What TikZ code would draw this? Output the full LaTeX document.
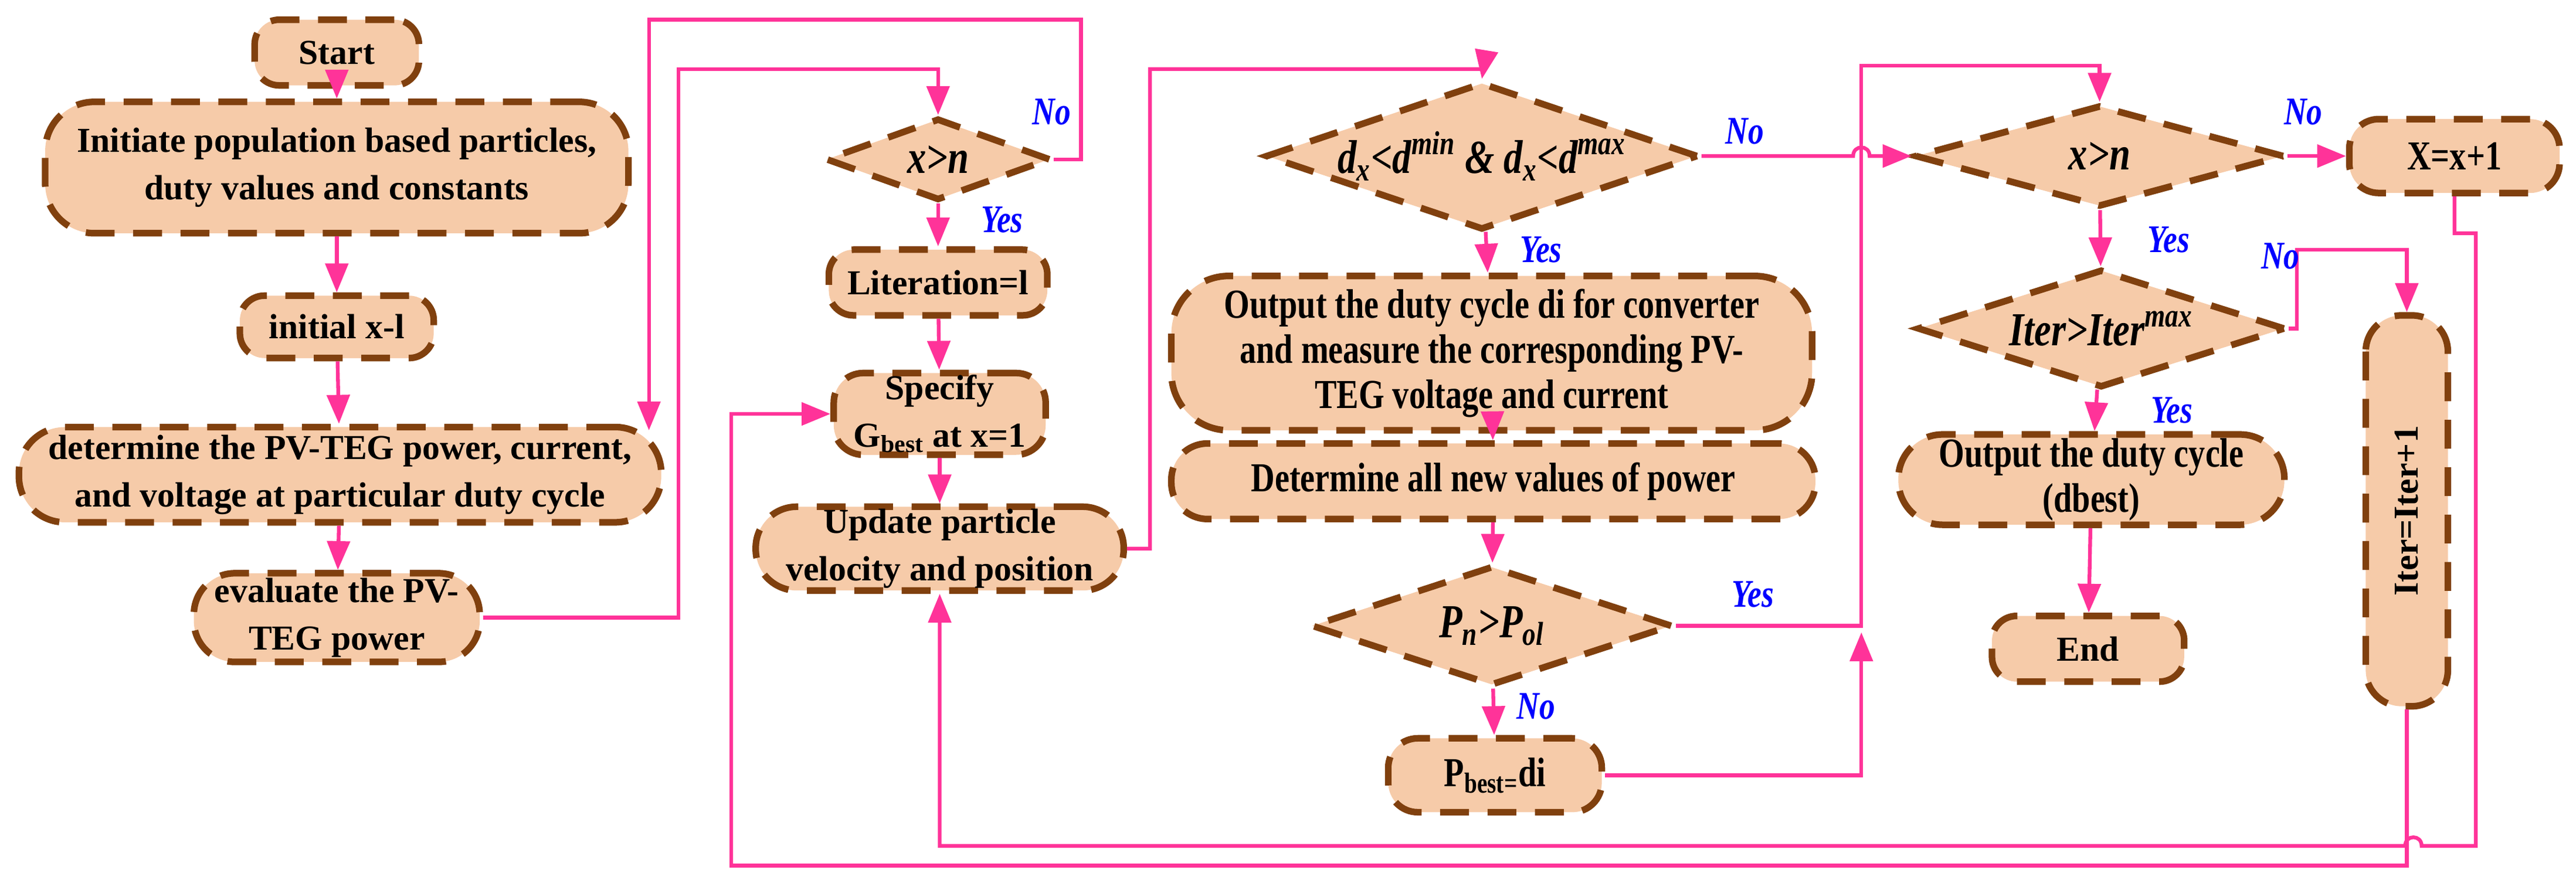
\documentclass[tikz,border=0pt]{standalone}
\usepackage{fontspec}
\setmainfont{Liberation Serif}
\newfontfamily\cond[FakeStretch=0.8]{Liberation Serif}
\usetikzlibrary{arrows.meta,shapes.geometric}
\definecolor{fillc}{HTML}{F6CBA9}
\definecolor{brd}{HTML}{80400E}
\definecolor{pink}{HTML}{FF3399}
\definecolor{lab}{HTML}{0000FF}
\tikzset{
  bx/.style n args={3}{draw=brd, fill=fillc, line width=3.2pt, dash pattern=on 14pt off 9pt,
    rounded corners=#3*0.028017cm, minimum width=#1*0.028017cm, minimum height=#2*0.028017cm,
    inner sep=1pt, align=center, font=\fontsize{17}{23}\selectfont\bfseries},
  cbx/.style={font=\cond\fontsize{20}{22}\selectfont\bfseries},
  dm/.style n args={3}{diamond, draw=brd, fill=fillc, line width=3.2pt, dash pattern=on 14pt off 9pt,
    aspect=#3, minimum width=#1*0.028017cm, minimum height=#2*0.028017cm, inner sep=0pt,
    font=\cond\fontsize{23}{24}\selectfont\bfseries\itshape},
  ln/.style={draw=pink, line width=1.8pt},
  ar/.style={ln, -{Triangle[length=14pt,width=11pt]}},
  lb/.style={text=lab, font=\cond\fontsize{19}{20}\selectfont\bfseries\itshape},
}
\begin{document}
\begin{tikzpicture}[x=0.028017cm,y=-0.028017cm]
\useasboundingbox (0,0) rectangle (1568,540);
% column 1
\node[bx={100}{40}{15}] (start) at (205,32) {Start};
\node[bx={355}{80}{30}] (init) at (205,102) {Initiate population based particles,\\duty values and constants};
\node[bx={118}{38}{15}] (initx) at (205,199) {initial x-l};
\node[bx={391}{58}{28}] (det) at (207,289) {determine the PV-TEG power, current,\\and voltage at particular duty cycle};
\node[bx={174}{54}{25}] (eval) at (205,376) {evaluate the PV-\\TEG power};
% column 2
\node[dm={137}{50}{2.74}] (d1) at (571,97) {x>n};
\node[bx={133}{40}{15}] (lit) at (571,172) {Literation=l};
\node[bx={129}{49}{18}] (spec) at (572,252) {Specify\\G\textsubscript{best} at x=1};
\node[bx={224}{51}{25}] (upd) at (572,334) {Update particle\\velocity and position};
% column 3
\node[dm={220}{75}{2.93}] (d2) at (902,95) {d\textsubscript{x}<d\textsuperscript{min} \& d\textsubscript{x}<d\textsuperscript{max}};
\node[bx={390}{94}{35},cbx] (out) at (908,215) {Output the duty cycle di for converter\\and measure the corresponding PV-\\TEG voltage and current};
\node[bx={392}{46}{22},cbx] (detall) at (909,293) {Determine all new values of power};
\node[dm={220}{73}{3.01}] (d3) at (908,381) {P\textsubscript{n}>P\textsubscript{ol}};
\node[bx={130}{45}{18},cbx] (pbest) at (910,472) {P\textsubscript{best=}di};
% column 4
\node[dm={225}{62}{3.63}] (d4) at (1278,95) {x>n};
\node[dm={224}{72}{3.11}] (d5) at (1279,200) {Iter>Iter\textsuperscript{max}};
\node[bx={235}{55}{27},cbx] (dbest) at (1273,292) {Output the duty cycle\\(dbest)};
\node[bx={117}{40}{15}] (end) at (1271,395) {End};
\node[bx={128}{45}{18},cbx] (xx) at (1494,95) {X=x+1};
\node[bx={238}{50}{22},rotate=90] (iter) at (1465,311) {Iter=Iter+1};
% connectors column 1
\draw[ar] (start) -- (init);
\draw[ar] (init) -- (initx);
\draw[ar] (initx) -- (det);
\draw[ar] (det) -- (eval);
\draw[ar] (eval.east) -- (413,376) -- (413,42) -- (571,42) -- (d1.north);
\draw[ar] (d1.east) -- (658,97) -- (658,12) -- (395,12) -- (395,262);
% column 2
\draw[ar] (d1) -- (lit);
\draw[ar] (lit) -- (spec);
\draw[ar] (spec) -- (upd);
\draw[ar] (upd.east) -- (700,334) -- (700,42) -- (903,42) -- (d2.north);
% column 3
\draw[ar] (d2) -- (out);
\draw[ar] (out) -- (detall);
\draw[ar] (detall) -- (d3);
\draw[ar] (d3) -- (pbest);
\draw[ar] (d2.east) -- (1128,95) .. controls (1128,88) and (1138,88) .. (1138,95) -- (d4.west);
\draw[ar] (pbest.east) -| (1133,385);
\draw[ar] (d3.east) -- (1133,381) -- (1133,40) -- (1278,40) -- (d4.north);
% column 4
\draw[ar] (d4) -- (xx);
\draw[ar] (d4) -- (d5);
\draw[ar] (d5) -- (dbest);
\draw[ar] (dbest) -- (end);
\draw[ar] (d5.east) -- (1398,200) -- (1398,152) -- (1465,152) -- (iter.east);
\draw[ar] (xx.south) -- (1494,142) -- (1507,142) -- (1507,515) -- (1474,515) .. controls (1474,508) and (1464,508) .. (1464,515) -- (572,515) -- (upd.south);
\draw[ar] (iter.west) -- (1465,527) -- (445,527) -- (445,252) -- (spec.west);
% labels
\node[lb] (l1) at (640,68) {No};
\node[lb] (l2) at (610,134) {Yes};
\node[lb] (l3) at (1062,80) {No};
\node[lb] (l4) at (938,152) {Yes};
\node[lb] (l5) at (1067,362) {Yes};
\node[lb] (l6) at (935,430) {No};
\node[lb] (l7) at (1402,68) {No};
\node[lb] (l8) at (1320,146) {Yes};
\node[lb] (l9) at (1388,156) {No};
\node[lb] (l10) at (1322,250) {Yes};
\end{tikzpicture}
\end{document}
